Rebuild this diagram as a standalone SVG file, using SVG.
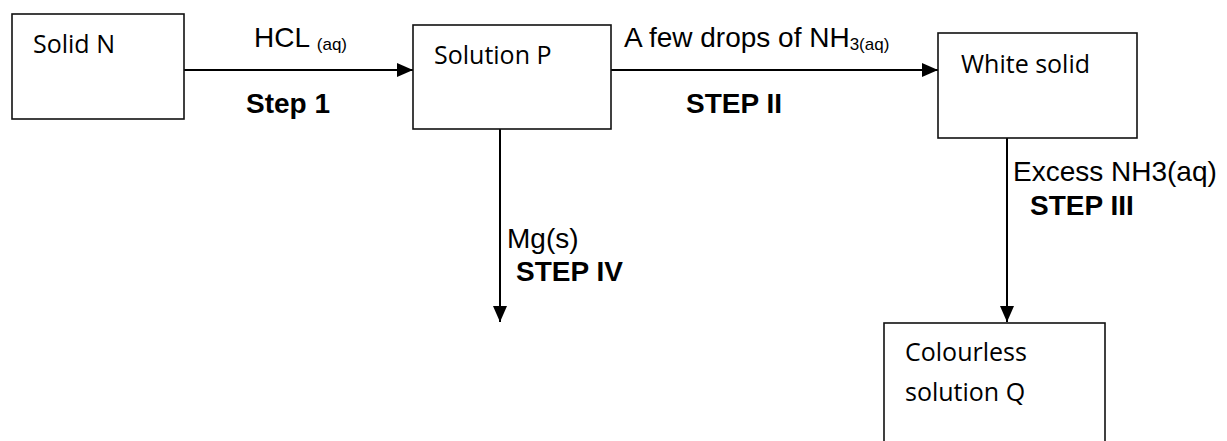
<svg xmlns="http://www.w3.org/2000/svg" width="1227" height="441" viewBox="0 0 1227 441">
<defs>
<style>
.box{fill:#fff;stroke:#111;stroke-width:1.6}
.lbl{font-family:"Open Sans","Noto Sans",sans-serif;font-size:25px;fill:#000}
.ar{font-family:"Liberation Sans",Arial,sans-serif;font-size:28px;fill:#000}
.b{font-weight:bold}
.sub{font-size:17px}
.con{stroke:#000;stroke-width:2;fill:none}
</style>
<marker id="ah" viewBox="0 0 16 14" refX="16" refY="7" markerWidth="16" markerHeight="14" markerUnits="userSpaceOnUse" orient="auto">
<path d="M0,0 L16,7 L0,14 Z" fill="#000"/>
</marker>
</defs>
<rect width="1227" height="441" fill="#fff"/>
<g id="connectors">
<line class="con" x1="184" y1="70" x2="413" y2="70" marker-end="url(#ah)"/>
<line class="con" x1="611" y1="70" x2="938" y2="70" marker-end="url(#ah)"/>
<line class="con" x1="1007" y1="138" x2="1007" y2="322" marker-end="url(#ah)"/>
<line class="con" x1="500" y1="129" x2="500" y2="322" marker-end="url(#ah)"/>
<text class="ar" x="254" y="47">HCL <tspan class="sub" dy="3">(aq)</tspan></text>
<text class="ar b" x="246" y="113">Step 1</text>
<text class="ar" x="624" y="47">A few drops of NH<tspan class="sub" font-size="18" dy="3">3(aq)</tspan></text>
<text class="ar b" x="686" y="113">STEP II</text>
<text class="ar" x="1013" y="181">Excess NH3(aq)</text>
<text class="ar b" x="1030" y="215">STEP III</text>
<text class="ar" x="507" y="248">Mg(s)</text>
<text class="ar b" x="516" y="281">STEP IV</text>
</g>
<g id="solidN">
<rect class="box" x="12" y="14" width="172" height="105"/>
<text class="lbl" x="33" y="53">Solid N</text>
</g>
<g id="solutionP">
<rect class="box" x="413" y="25" width="198" height="104"/>
<text class="lbl" x="434" y="64">Solution P</text>
</g>
<g id="whiteSolid">
<rect class="box" x="938" y="33" width="199" height="105"/>
<text class="lbl" x="961" y="73">White solid</text>
</g>
<g id="colourless">
<rect class="box" x="884" y="323" width="221" height="140"/>
<text class="lbl" x="905" y="361">Colourless</text>
<text class="lbl" x="905" y="401">solution Q</text>
</g>
</svg>
